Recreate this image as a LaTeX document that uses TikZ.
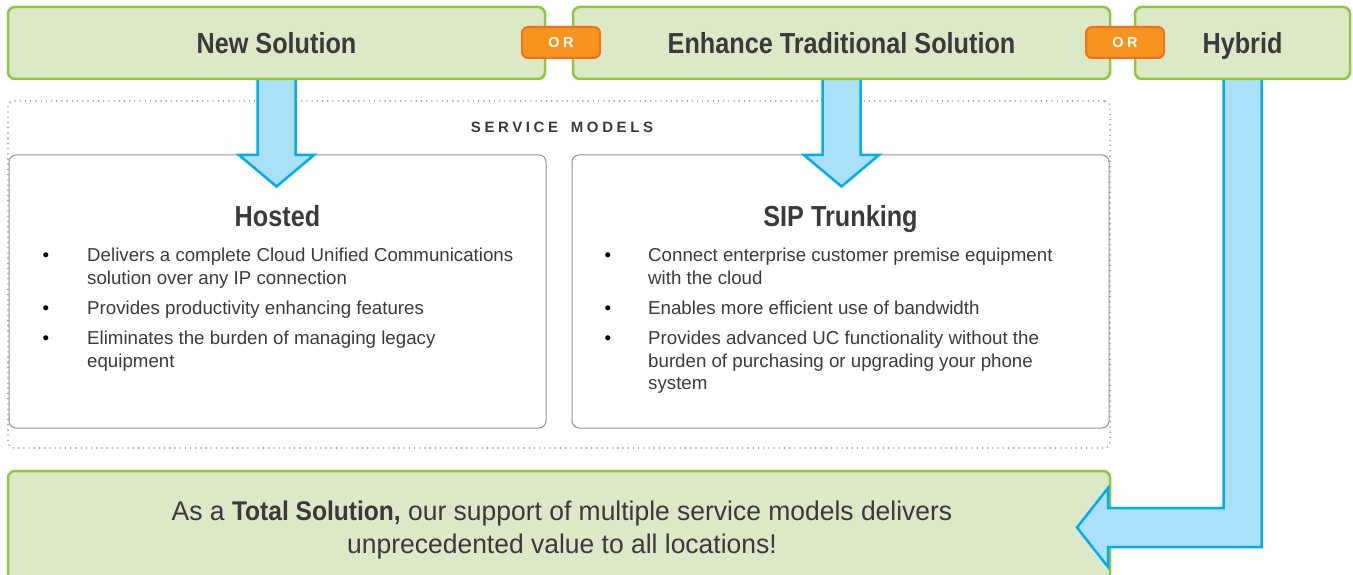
\documentclass[tikz,border=0pt]{standalone}
\usepackage{fontspec}
\setmainfont{Liberation Sans}
\newfontfamily\condfont[FakeStretch=0.87]{Liberation Sans}
\newfontfamily\totfont[FakeStretch=0.91]{Liberation Sans}
\newfontfamily\regfont[FakeStretch=0.98]{Liberation Sans}
\usetikzlibrary{calc}
\definecolor{gfill}{HTML}{DBE9C6}
\definecolor{gborder}{HTML}{8DC63F}
\definecolor{ofill}{HTML}{F7941D}
\definecolor{oborder}{HTML}{F36F21}
\definecolor{bfill}{HTML}{ABE0F9}
\definecolor{bborder}{HTML}{00AEEF}
\definecolor{boxgray}{HTML}{8C939C}
\definecolor{dotgray}{HTML}{8A8A8A}
\definecolor{txt}{HTML}{3A3A3A}
\begin{document}
\begin{tikzpicture}[x=1pt,y=-1pt,
  hdr/.style={draw=gborder, fill=gfill, line width=2.5pt, rounded corners=7pt,
    text=txt, font=\condfont\bfseries\fontsize{29}{34}\selectfont,
    text height=21pt, text depth=0pt, inner sep=0pt, minimum height=72pt},
  orbox/.style={draw=oborder, fill=ofill, line width=2pt, rounded corners=6pt,
    minimum width=78pt, minimum height=31pt, text=white, inner sep=0pt,
    font=\bfseries\fontsize{14.5}{16}\selectfont\addfontfeature{LetterSpace=25}},
  modelbox/.style={draw=boxgray, line width=1pt, rounded corners=7pt,
    minimum width=537pt, minimum height=273pt, inner sep=0pt},
  dotbox/.style={draw=dotgray, line width=1.6pt, dash pattern=on 0.01pt off 5.2pt,
    line cap=round, rounded corners=6pt, inner sep=0pt},
  title/.style={anchor=base, inner sep=0pt, text=txt,
    font=\condfont\bfseries\fontsize{29}{34}\selectfont},
  btxt/.style={anchor=base west, inner sep=0pt, text=txt,
    font=\fontsize{18.7}{23}\selectfont},
  bul/.style={anchor=base, inner sep=0pt, text=black,
    font=\fontsize{18.7}{23}\selectfont},
  barrow/.style={draw=bborder, fill=bfill, line width=2.5pt, line join=miter},
  totbox/.style={draw=gborder, fill=gfill, line width=2.5pt, rounded corners=7pt,
    minimum width=1102pt, minimum height=130pt, inner sep=0pt}
]
\useasboundingbox (0,0) rectangle (1353,575);

% service models frame
\node[dotbox, minimum width=1102pt, minimum height=347pt] (frame) at (559,274.5) {};
\node[inner sep=0pt, text=txt, anchor=base,
  font=\bfseries\fontsize{15}{18}\selectfont\addfontfeature{LetterSpace=24}] (sm) at (562,133) {SERVICE\hspace{5pt} MODELS};

% model boxes
\node[modelbox] (hosted) at (277.5,291.5) {};
\node[modelbox] (sip) at (840.5,291.5) {};

% bottom box
\node[totbox] (total) at (559,536) {};
\node[inner sep=0pt, anchor=north, align=center, text=txt,
  font=\regfont\fontsize{27}{33}\selectfont] (tottext) at (562,501)
  {As a {\totfont\bfseries Total Solution,} our support of multiple service models delivers\\
   unprecedented value to all locations!};

% header box anchor points
\coordinate (newS) at (276.5,79);
\coordinate (enhS) at (841.5,79);
\coordinate (hybS) at (1242.5,79);

% arrows
\draw[barrow] ($(newS)+(-19,-6)$) -- ++(0,82) -- ++(-18.5,0) -- ($(hosted.north -| newS)+(0,32)$)
  -- ($(newS)+(37.5,76)$) -- ++(-18.5,0) -- ++(0,-82) -- cycle;
\draw[barrow] ($(enhS)+(-19,-6)$) -- ++(0,82) -- ++(-18.5,0) -- ($(sip.north -| enhS)+(0,32)$)
  -- ($(enhS)+(37.5,76)$) -- ++(-18.5,0) -- ++(0,-82) -- cycle;
\draw[barrow] ($(hybS)+(-19,-6)$) -- ($(hybS)+(-19,429)$) -- ($(hybS)+(-134.5,429)$)
  -- ($(hybS)+(-134.5,409)$) -- ($(hybS)+(-165.5,448.5)$) -- ($(hybS)+(-134.5,488)$)
  -- ($(hybS)+(-134.5,468)$) -- ($(hybS)+(19,468)$) -- ($(hybS)+(19,-6)$) -- cycle;

% header boxes
\node[hdr, minimum width=537pt] (new) at (276.5,43) {New Solution};
\node[hdr, minimum width=537pt] (enh) at (841.5,43) {Enhance Traditional Solution};
\node[hdr, minimum width=215pt] (hyb) at (1242.5,43) {Hybrid};
\node[orbox] (or1) at (561,42.5) {OR};
\node[orbox] (or2) at (1125,42.5) {OR};

% titles
\node[title] (hostedT) at (277.5,226) {Hosted};
\node[title] (sipT) at (840.5,226) {SIP Trunking};

% hosted bullets
\node[bul] (hb1) at (46,261) {\textbullet};
\node[btxt] (h1a) at (87,261) {Delivers a complete Cloud Unified Communications};
\node[btxt] (h1b) at (87,284) {solution over any IP connection};
\node[bul] (hb2) at (46,314) {\textbullet};
\node[btxt] (h2a) at (87,314) {Provides productivity enhancing features};
\node[bul] (hb3) at (46,344) {\textbullet};
\node[btxt] (h3a) at (87,344) {Eliminates the burden of managing legacy};
\node[btxt] (h3b) at (87,367) {equipment};

% sip bullets
\node[bul] (sb1) at (608,261) {\textbullet};
\node[btxt] (s1a) at (648,261) {Connect enterprise customer premise equipment};
\node[btxt] (s1b) at (648,284) {with the cloud};
\node[bul] (sb2) at (608,314) {\textbullet};
\node[btxt] (s2a) at (648,314) {Enables more efficient use of bandwidth};
\node[bul] (sb3) at (608,344) {\textbullet};
\node[btxt] (s3a) at (648,344) {Provides advanced UC functionality without the};
\node[btxt] (s3b) at (648,367) {burden of purchasing or upgrading your phone};
\node[btxt] (s3c) at (648,389) {system};
\end{tikzpicture}
\end{document}
